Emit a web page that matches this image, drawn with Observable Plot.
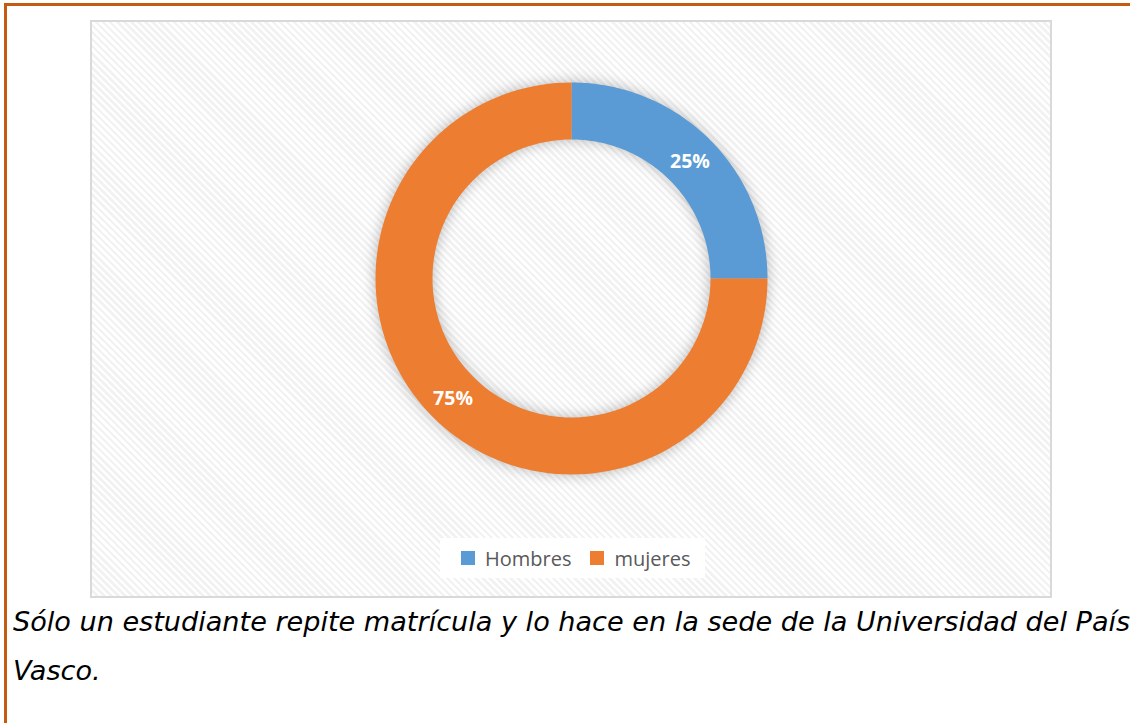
<!DOCTYPE html>
<html>
<head>
<meta charset="utf-8">
<script src="https://cdn.jsdelivr.net/npm/d3@7"></script>
<script src="https://cdn.jsdelivr.net/npm/@observablehq/plot@0.6"></script>
<style>
  html, body { margin: 0; padding: 0; background: #fff; }
  #page { position: relative; width: 1130px; height: 723px; overflow: hidden; }
  #frame { position: absolute; left: 4px; top: 3px; width: 1126px; height: 720px;
    border-left: 3px solid #c55a11; border-top: 3px solid #c55a11; box-sizing: border-box; }
  #box { position: absolute; left: 90px; top: 20px; width: 962px; height: 578px;
    border: 2px solid #d9d9d9; box-sizing: border-box;
    background: repeating-linear-gradient(45deg, #ffffff 0px, #ffffff 2.5px, #f2f2f2 2.5px, #f2f2f2 5px); }
  #chart { position: absolute; left: 0; top: 0; }
  #legendbg { position: absolute; left: 348px; top: 516px; width: 265px; height: 40px; background: #fff; }
  #legend { position: absolute; left: 369px; top: 516px; height: 40px; width: 300px;
    display: flex; align-items: center; justify-content: flex-start; }
  #caption { position: absolute; left: 13px; top: 597px; font-family: "DejaVu Sans", Verdana, sans-serif;
    font-style: italic; font-size: 27.1px; line-height: 49px; color: #000; white-space: nowrap; }
</style>
</head>
<body>
<div id="page">
  <div id="frame"></div>
  <div id="box">
    <div id="chart"></div>
    <div id="legendbg"></div>
    <div id="legend"></div>
  </div>
  <div id="caption"><div>Sólo un estudiante repite matrícula y lo hace en la sede de la Universidad del País</div><div>Vasco.</div></div>
</div>
<script>
const categories = ["Hombres", "mujeres"];
const values = [25, 75];
const labels = ["25%", "75%"];
const colors = ["#5b9bd5", "#ed7d31"];

const W = 958, H = 574;
const cx = 479, cy = 256, R = 196;
const inner = 139 / 196;

const data = categories.map((c, i) => ({name: c, value: values[i], label: labels[i]}));
const pie = d3.pie().sort(null).value(d => d.value)(data);

const pts = [];
for (const s of pie) {
  const n = 120;
  for (let k = 0; k <= n; k++) {
    const a = s.startAngle + (s.endAngle - s.startAngle) * k / n;
    pts.push({name: s.data.name, x: Math.sin(a), y: Math.cos(a)});
  }
  for (let k = n; k >= 0; k--) {
    const a = s.startAngle + (s.endAngle - s.startAngle) * k / n;
    pts.push({name: s.data.name, x: inner * Math.sin(a), y: inner * Math.cos(a)});
  }
}
const mid = (1 + inner) / 2;
const lab = pie.map(s => {
  const a = (s.startAngle + s.endAngle) / 2;
  return {label: s.data.label, x: mid * Math.sin(a), y: mid * Math.cos(a)};
});

const color = {type: "ordinal", domain: categories, range: colors};

const plot = Plot.plot({
  width: W, height: H,
  margin: 0,
  style: {background: "transparent", overflow: "visible"},
  x: {domain: [-1, 1], range: [cx - R, cx + R], axis: null},
  y: {domain: [-1, 1], range: [cy + R, cy - R], axis: null},
  color,
  marks: [
    Plot.line(pts, {x: "x", y: "y", z: "name", fill: "name", stroke: "none", curve: "linear-closed"}),
    Plot.text(lab, {x: "x", y: "y", dy: 2, text: "label", fill: "white", fontWeight: "bold",
      fontSize: 19.5, fontFamily: "Open Sans, sans-serif"})
  ]
});
const g = plot.querySelector('g[aria-label="line"]');
if (g) g.style.filter = "drop-shadow(0px 0px 7px rgba(0,0,0,0.28))";
document.getElementById("chart").appendChild(plot);

const leg = Plot.legend({color, swatchSize: 14, swatchWidth: 14, swatchHeight: 14});
leg.style.fontFamily = "Open Sans, sans-serif";
leg.style.fontSize = "20px";
leg.style.color = "#595959";
leg.style.margin = "0";
leg.style.flexWrap = "nowrap";
leg.style.whiteSpace = "nowrap";
const sw = leg.querySelectorAll(":scope > span");
if (sw.length) sw[0].style.marginRight = "19px";
document.getElementById("legend").appendChild(leg);
</script>
</body>
</html>
